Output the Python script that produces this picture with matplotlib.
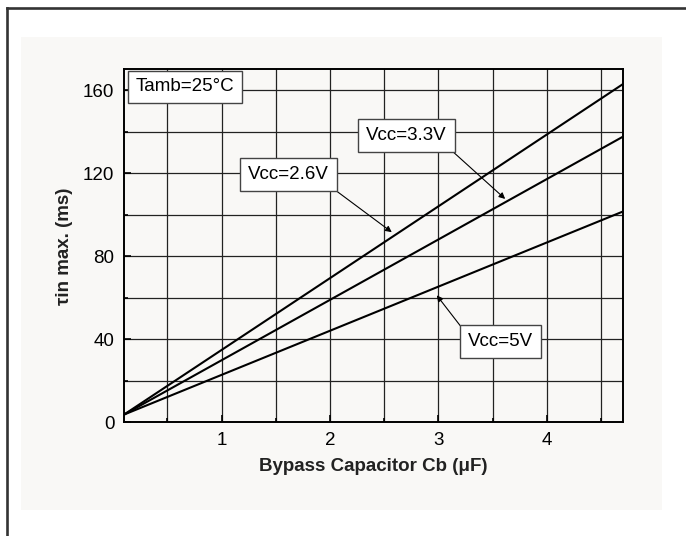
import matplotlib
matplotlib.use("Agg")
import matplotlib.pyplot as plt
from matplotlib.patches import Rectangle
from matplotlib.lines import Line2D
from matplotlib.ticker import MultipleLocator

plt.rcParams['font.family'] = ['Liberation Sans', 'DejaVu Sans']

# bypass capacitor (uF) vs max time constant (ms), straight-line fits
cb_uf = [0.1, 4.7]
tau_vcc26 = [3.8, 162.8]
tau_vcc33 = [3.8, 137.5]
tau_vcc50 = [3.8, 101.5]

x_ticks = [1, 2, 3, 4]
y_ticks = [0, 40, 80, 120, 160]

panel = '#f9f8f6'
fs = 13.5

fig = plt.figure(figsize=(6.86, 5.36), dpi=100)
fig.patch.set_facecolor('white')

# light panel behind the chart, plus the page frame on left/top
fig.patches.append(Rectangle((0.0306, 0.0476), 0.9337, 0.8834, transform=fig.transFigure,
                             facecolor=panel, edgecolor='none', zorder=-10))
fig.lines.append(Line2D([0.0109, 0.0109], [0.0, 0.985], transform=fig.transFigure,
                        color='#333333', lw=1.9, zorder=-5))
fig.lines.append(Line2D([0.0109, 1.0], [0.985, 0.985], transform=fig.transFigure,
                        color='#333333', lw=1.9, zorder=-5))

ax = fig.add_axes([0.1808, 0.2118, 0.7269, 0.6589])
ax.set_facecolor(panel)

ax.plot(cb_uf, tau_vcc26, color='black', lw=1.5, zorder=3)
ax.plot(cb_uf, tau_vcc33, color='black', lw=1.5, zorder=3)
ax.plot(cb_uf, tau_vcc50, color='black', lw=1.5, zorder=3)

ax.set_xlim(0.1, 4.7)
ax.set_ylim(0, 170)
ax.set_xticks(x_ticks)
ax.set_yticks(y_ticks)
ax.xaxis.set_minor_locator(MultipleLocator(0.5))
ax.yaxis.set_minor_locator(MultipleLocator(20))
ax.grid(True, which='both', color='#222222', lw=0.9)
ax.set_axisbelow(True)
ax.tick_params(which='both', direction='in', top=False, right=False,
               labelsize=fs, pad=7, width=1.2, color='black')
ax.tick_params(which='major', length=5)
ax.tick_params(which='minor', length=3)
for s in ax.spines.values():
    s.set_linewidth(1.4)
    s.set_color('black')

ax.set_xlabel('Bypass Capacitor Cb (μF)', fontsize=fs, fontweight='bold',
              color='#222222', labelpad=6)
ax.set_ylabel('τin max. (ms)', fontsize=fs, fontweight='bold',
              color='#222222', labelpad=7)

box = dict(boxstyle='square,pad=0.42', facecolor='white', edgecolor='#444444', lw=1.0)

ax.text(0.665, 161.5, 'Tamb=25°C', fontsize=fs, ha='center', va='center', bbox=box, zorder=5)
ax.text(1.619, 119.2, 'Vcc=2.6V', fontsize=fs, ha='center', va='center', bbox=box, zorder=5)
ax.text(2.705, 138.0, 'Vcc=3.3V', fontsize=fs, ha='center', va='center', bbox=box, zorder=5)
ax.text(3.572, 39.0, 'Vcc=5V', fontsize=fs, ha='center', va='center', bbox=box, zorder=5)

arrow = dict(arrowstyle='-|>', lw=0.8, color='black', mutation_scale=9,
             shrinkA=0, shrinkB=0)
ax.annotate('', xy=(2.570, 91.6), xytext=(2.055, 111.6), arrowprops=arrow, zorder=4)
ax.annotate('', xy=(3.616, 107.6), xytext=(3.124, 130.8), arrowprops=arrow, zorder=4)
ax.annotate('', xy=(2.985, 61.2), xytext=(3.210, 46.0), arrowprops=arrow, zorder=4)

fig.savefig('out.png', dpi=100, facecolor=fig.get_facecolor())
